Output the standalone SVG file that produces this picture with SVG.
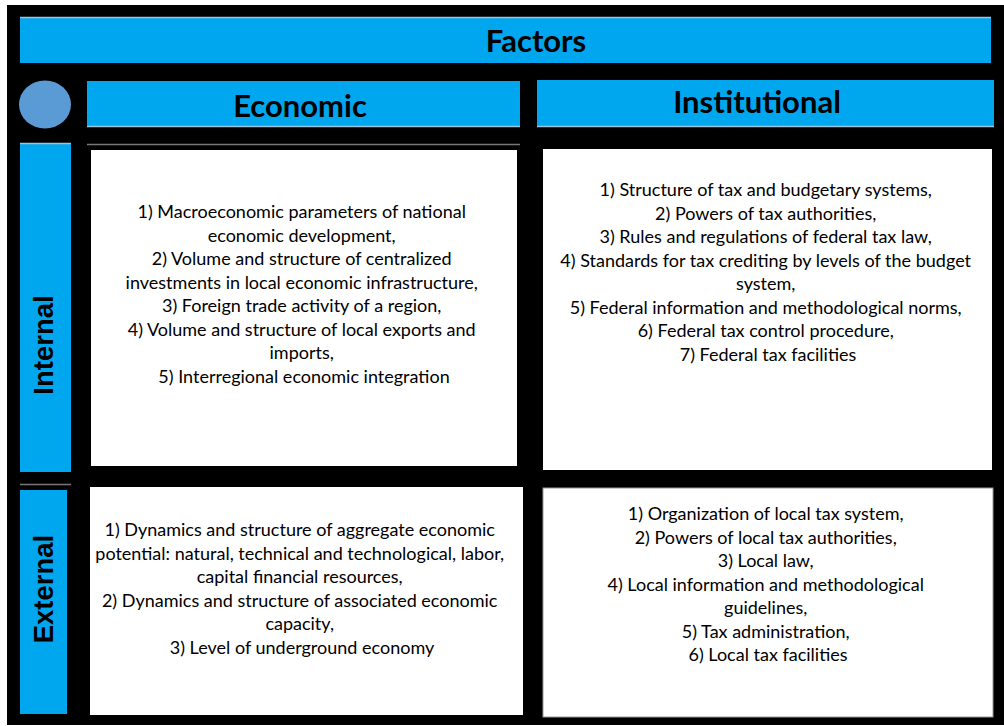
<svg xmlns="http://www.w3.org/2000/svg" width="1004" height="726" viewBox="0 0 1004 726">
<style>
.bar{fill:#00A6EE}
.box{fill:#FFFFFF}
.hdr{font-family:Lato,"Liberation Sans",sans-serif;font-weight:bold;font-size:31px;fill:#000;text-anchor:middle}
.side{font-family:"Liberation Sans",Arial,sans-serif;font-weight:bold;font-size:27.5px;fill:#000;text-anchor:middle}
.body{font-family:Lato,"Liberation Sans",sans-serif;font-size:18px;fill:#000;text-anchor:middle}
.edge{stroke:#9FC3DA;stroke-width:1.5}
.gedge{stroke:#777;stroke-width:1.5}
</style>
<rect x="0" y="0" width="1004" height="726" fill="#FFFFFF"/>
<rect x="7" y="5" width="997" height="720" fill="#000000"/>

<g id="factors">
<rect class="bar" x="20" y="17" width="971" height="46"/>
<line class="edge" x1="20" y1="17.5" x2="991" y2="17.5"/>
<text class="hdr" x="536" y="52">Factors</text>
</g>

<g id="corner">
<ellipse cx="45" cy="104.5" rx="26" ry="24" fill="#5B9BD5"/>
</g>

<g id="economic">
<rect class="bar" x="87" y="81" width="433" height="46"/>
<line class="edge" x1="87" y1="126.5" x2="520" y2="126.5"/>
<text class="hdr" x="300" y="117">Economic</text>
</g>

<g id="institutional">
<rect class="bar" x="537" y="80" width="457" height="47"/>
<line class="edge" x1="537" y1="126.5" x2="994" y2="126.5"/>
<text class="hdr" x="757" y="113">Institutional</text>
</g>

<g id="internal">
<rect class="bar" x="20" y="143" width="51" height="329"/>
<line class="edge" x1="20" y1="143.5" x2="71" y2="143.5"/>
<text class="side" transform="translate(53,345) rotate(-90)">Internal</text>
</g>

<g id="external">
<line class="gedge" x1="20" y1="484.5" x2="71" y2="484.5"/>
<rect class="bar" x="20" y="490" width="47" height="224"/>
<text class="side" transform="translate(53,589) rotate(-90)">External</text>
</g>

<g id="internal-economic">
<line class="gedge" x1="87" y1="144.5" x2="520" y2="144.5"/>
<rect class="box" x="91" y="150" width="426" height="316"/>
<text class="body">
<tspan x="304" y="218">1) Macroeconomic parameters of national</tspan>
<tspan x="304" y="241.5">economic development,</tspan>
<tspan x="304" y="265">2) Volume and structure of centralized</tspan>
<tspan x="304" y="288.5">investments in local economic infrastructure,</tspan>
<tspan x="304" y="312">3) Foreign trade activity of a region,</tspan>
<tspan x="304" y="335.5">4) Volume and structure of local exports and</tspan>
<tspan x="304" y="359">imports,</tspan>
<tspan x="304" y="382.5">5) Interregional economic integration</tspan>
</text>
</g>

<g id="internal-institutional">
<rect class="box" x="543" y="149" width="449" height="321"/>
<text class="body">
<tspan x="768" y="196">1) Structure of tax and budgetary systems,</tspan>
<tspan x="768" y="219.5">2) Powers of tax authorities,</tspan>
<tspan x="768" y="243">3) Rules and regulations of federal tax law,</tspan>
<tspan x="768" y="266.5">4) Standards for tax crediting by levels of the budget</tspan>
<tspan x="768" y="290">system,</tspan>
<tspan x="768" y="313.5">5) Federal information and methodological norms,</tspan>
<tspan x="768" y="337">6) Federal tax control procedure,</tspan>
<tspan x="768" y="360.5">7) Federal tax facilities</tspan>
</text>
</g>

<g id="external-economic">
<rect class="box" x="90" y="487" width="433" height="228"/>
<text class="body">
<tspan x="302" y="536">1) Dynamics and structure of aggregate economic</tspan>
<tspan x="302" y="559.5">potential: natural, technical and technological, labor,</tspan>
<tspan x="302" y="583">capital financial resources,</tspan>
<tspan x="302" y="606.5">2) Dynamics and structure of associated economic</tspan>
<tspan x="302" y="630">capacity,</tspan>
<tspan x="302" y="653.5">3) Level of underground economy</tspan>
</text>
</g>

<g id="external-institutional">
<rect class="box" x="543" y="488" width="450" height="229" stroke="#999" stroke-width="1"/>
<text class="body">
<tspan x="768" y="520">1) Organization of local tax system,</tspan>
<tspan x="768" y="543.5">2) Powers of local tax authorities,</tspan>
<tspan x="768" y="567">3) Local law,</tspan>
<tspan x="768" y="590.5">4) Local information and methodological</tspan>
<tspan x="768" y="614">guidelines,</tspan>
<tspan x="768" y="637.5">5) Tax administration,</tspan>
<tspan x="768" y="661">6) Local tax facilities</tspan>
</text>
</g>

<g id="connectors"></g>
</svg>
